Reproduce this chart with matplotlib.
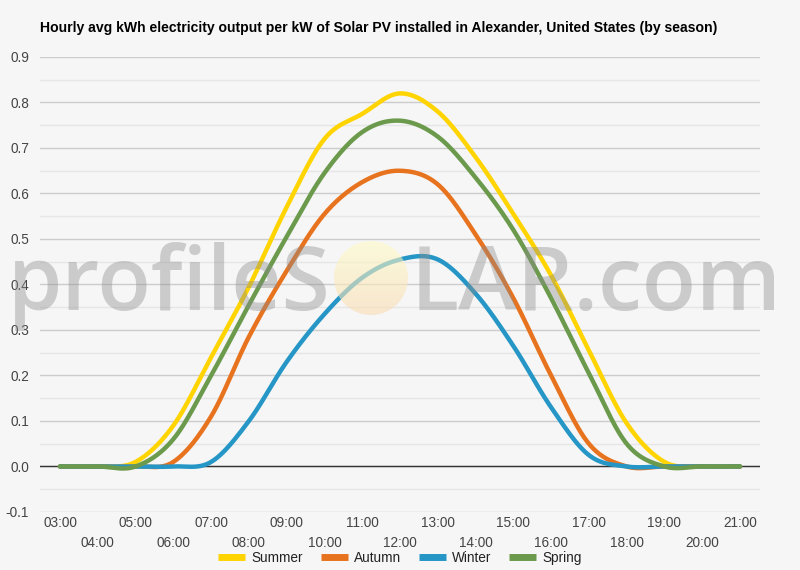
import numpy as np
import matplotlib
matplotlib.use("Agg")
import matplotlib.pyplot as plt
from matplotlib.patches import Circle
from matplotlib.lines import Line2D

# ---------------- data ----------------
hours = list(range(3, 22))  # 03:00 .. 21:00
hour_labels = [f"{h:02d}:00" for h in hours]

summer = [0, 0, 0.01, 0.09, 0.24, 0.395, 0.57, 0.72, 0.775, 0.82, 0.78, 0.68,
          0.555, 0.42, 0.255, 0.095, 0.01, 0, 0]
autumn = [0, 0, 0, 0.01, 0.11, 0.285, 0.43, 0.555, 0.625, 0.65, 0.62, 0.51,
          0.37, 0.20, 0.05, 0, 0, 0, 0]
winter = [0, 0, 0, 0, 0.01, 0.10, 0.23, 0.335, 0.415, 0.455, 0.455, 0.38,
          0.265, 0.13, 0.025, 0, 0, 0, 0]
spring = [0, 0, 0, 0.06, 0.20, 0.355, 0.505, 0.645, 0.735, 0.76, 0.725, 0.635,
          0.52, 0.37, 0.205, 0.05, 0, 0, 0]

series_names = ["Summer", "Autumn", "Winter", "Spring"]
series_values = [summer, autumn, winter, spring]
series_colors = ["#FFD400", "#E8731E", "#2596C6", "#6B9A4D"]

title = ("Hourly avg kWh electricity output per kW of Solar PV installed in "
         "Alexander, United States (by season)")


def catmull_rom(x, y, n=24):
    x = np.asarray(x, float)
    y = np.asarray(y, float)
    m = np.zeros_like(y)
    m[1:-1] = (y[2:] - y[:-2]) / 2.0
    xs, ys = [], []
    for i in range(len(x) - 1):
        t = np.linspace(0, 1, n, endpoint=False)
        h00 = 2 * t**3 - 3 * t**2 + 1
        h10 = t**3 - 2 * t**2 + t
        h01 = -2 * t**3 + 3 * t**2
        h11 = t**3 - t**2
        xs.append(x[i] + t * (x[i + 1] - x[i]))
        ys.append(h00 * y[i] + h10 * m[i] + h01 * y[i + 1] + h11 * m[i + 1])
    xs.append([x[-1]])
    ys.append([y[-1]])
    return np.concatenate(xs), np.concatenate(ys)


bg = "#f6f6f6"
plt.rcParams["font.family"] = ["Liberation Sans", "DejaVu Sans"]

fig = plt.figure(figsize=(8, 5.7), dpi=100, facecolor=bg)
ax = fig.add_axes([0.05, 0.1018, 0.90, 0.7982])
ax.set_facecolor(bg)

ax.set_xlim(2.47, 21.53)
ax.set_ylim(-0.1, 0.9)

# gridlines
yt = np.round(np.arange(-0.1, 0.91, 0.1), 2)
ax.set_yticks(yt)
ax.set_yticks(np.round(np.arange(-0.05, 0.9, 0.1), 3), minor=True)
ax.yaxis.grid(True, which="major", color="#cccccc", lw=1)
ax.yaxis.grid(True, which="minor", color="#e6e6e6", lw=1)
ax.set_axisbelow(True)
ax.axhline(0, color="#333333", lw=1, zorder=1.5)
ax.set_yticklabels([f"{v:.1f}" for v in yt])

for s in ax.spines.values():
    s.set_visible(False)

odd = [h for h in hours if h % 2 == 1]
even = [h for h in hours if h % 2 == 0]
ax.set_xticks(odd)
ax.set_xticklabels([hour_labels[hours.index(h)] for h in odd])
ax.set_xticks(even, minor=True)
ax.set_xticklabels([hour_labels[hours.index(h)] for h in even], minor=True)
ax.tick_params(axis="x", which="major", length=0, pad=3, labelsize=9.8, labelcolor="#444444")
ax.tick_params(axis="x", which="minor", length=0, pad=17, labelsize=9.8, labelcolor="#444444")
ax.tick_params(axis="y", which="both", length=0, pad=8, labelsize=9.8, labelcolor="#444444")

for name, vals, col in zip(series_names, series_values, series_colors):
    xs, ys = catmull_rom(hours, vals)
    ax.plot(xs, ys, color=col, lw=3.2, solid_capstyle="round", zorder=3)

# watermark
wm_color = (0.55, 0.55, 0.55, 0.40)
fig.text(331 / 800, 1 - 310 / 570, "profileS", fontsize=63, family="Open Sans",
         fontweight=600, color=wm_color, ha="right", va="baseline", zorder=10)
fig.text(411 / 800, 1 - 310 / 570, "LAR.com", fontsize=64, family="Open Sans",
         fontweight=600, color=wm_color, ha="left", va="baseline", zorder=10)
# sun circle with gradient
cx, cy, r = 371, 570 - 278, 37
ax_w = fig.add_axes([0, 0, 1, 1], facecolor="none", zorder=9)
ax_w.set_xlim(0, 800)
ax_w.set_ylim(0, 570)
ax_w.axis("off")
grad = np.zeros((100, 1, 4))
top = np.array([1.0, 0.99, 0.78])
bot = np.array([0.98, 0.86, 0.70])
for i in range(100):
    f = i / 99.0
    grad[i, 0, :3] = top * (1 - f) + bot * f
    grad[i, 0, 3] = 0.6
im = ax_w.imshow(grad, extent=[cx - r, cx + r, cy - r, cy + r], origin="upper",
                 aspect="auto", interpolation="bilinear")
circ = Circle((cx, cy), r, transform=ax_w.transData)
im.set_clip_path(circ)

# title
fig.text(40 / 800, 1 - 28 / 570, title, fontsize=10.1, fontweight="bold",
         color="#000000", ha="left", va="center")

# legend
handles = [Line2D([0], [0], color=c, lw=5, solid_capstyle="butt") for c in series_colors]
fig.legend(handles, series_names, loc="center", bbox_to_anchor=(0.5, 1 - 558 / 570),
           ncol=4, frameon=False, fontsize=9.8, handlelength=2.0, handletextpad=0.45,
           columnspacing=1.3, labelcolor="#222222")

fig.savefig("out.png", dpi=100, facecolor=bg)
